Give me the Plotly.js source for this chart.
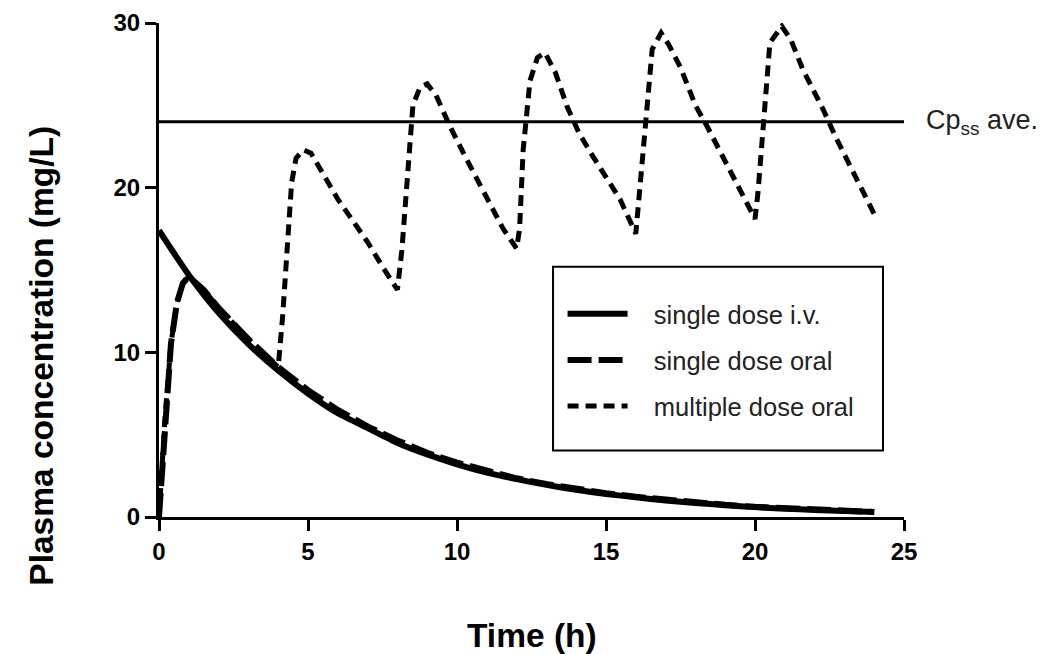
<!DOCTYPE html>
<html>
<head>
<meta charset="utf-8">
<script src="https://cdn.plot.ly/plotly-3.0.1.min.js"></script>
<style>html,body{margin:0;padding:0;background:#fff;}#chart{width:1060px;height:654px;}</style>
</head>
<body>
<div id="chart"></div>
<script>
// Time (h) and plasma concentration (mg/L)
var ivTime = [0,1,2,3,4,5,6,7,8,9,10,11,12,13,14,15,16,17,18,19,20,21,22,23,24];
var ivConc = [17.4,14.7,12.4,10.5,8.9,7.5,6.3,5.4,4.5,3.8,3.2,2.7,2.3,1.95,1.65,1.4,1.2,1.0,0.85,0.72,0.6,0.5,0.43,0.36,0.3];

var oralTime = [0,0.1,0.2,0.4,0.6,0.8,1.0,1.5,2,3,4,5,6,7,8,9,10,11,12,13,14,15,16,17,18,19,20,21,22,23,24];
var oralConc = [0,3,6,10.5,13,14.2,14.6,13.8,12.7,10.8,9.1,7.7,6.5,5.5,4.65,3.9,3.3,2.8,2.35,2.0,1.7,1.45,1.23,1.04,0.88,0.74,0.62,0.52,0.44,0.37,0.31];

var multiTime = [0,0.1,0.2,0.4,0.6,0.8,1.0,1.5,2,3,4,
  4.15,4.3,4.45,4.6,4.85,5.1,5.5,6,6.5,7,7.5,8,
  8.15,8.36,8.52,8.76,9.0,9.3,9.77,10.3,10.77,11.2,11.55,12.0,
  12.1,12.22,12.45,12.7,12.95,13.3,13.7,14.1,14.56,15.0,15.47,16.0,
  16.1,16.35,16.55,16.85,17.1,17.5,18.0,18.4,18.8,19.27,19.6,20.0,
  20.1,20.33,20.5,20.9,21.2,21.6,22.0,22.3,22.7,23.1,23.5,24.0];
var multiConc = [0,3,6,10.5,13,14.2,14.6,13.8,12.7,10.8,9.1,
  12.2,16.5,20.3,21.8,22.3,22.1,20.9,19.3,18.0,16.7,15.2,13.8,
  16.2,21.7,25.0,26.1,26.3,25.6,23.7,21.8,20.1,18.7,17.5,16.3,
  17.5,22.3,26.5,27.9,28.2,27.0,24.9,23.3,21.9,20.6,19.3,17.2,
  19.3,24.7,28.4,29.4,28.7,27.3,25.0,23.7,22.3,20.7,19.5,18.1,
  19.7,25.3,28.8,29.8,29.0,27.2,25.8,24.7,23.1,21.7,20.2,18.4];

var cpssTime = [0,25];
var cpssConc = [24,24];

var seriesNames = ['single dose i.v.','single dose oral','multiple dose oral'];
var xTicks = [0,5,10,15,20,25];
var yTicks = [0,10,20,30];

var FONT = 'Liberation Sans, Arial, Helvetica, sans-serif';
var PAD = '\u00a0\u00a0\u00a0';

var traces = [
  {x: cpssTime, y: cpssConc, mode:'lines', line:{color:'#000', width:3}, showlegend:false, hoverinfo:'skip', legendgroup:'z'},
  {x: ivTime, y: ivConc, name: PAD + seriesNames[0], mode:'lines', line:{color:'#000', width:6, shape:'spline', smoothing:0.6}, legendgroup:'a'},
  {x: oralTime, y: oralConc, name: PAD + seriesNames[1], mode:'lines', line:{color:'#000', width:6, dash:'24px,7px'}, legendgroup:'b'},
  {x: multiTime, y: multiConc, name: PAD + seriesNames[2], mode:'lines', line:{color:'#000', width:5, dash:'11px,7px'}, legendgroup:'c'}
];

var layout = {
  width:1060, height:654,
  margin:{l:159, r:156, t:23, b:137, pad:0},
  paper_bgcolor:'#fff', plot_bgcolor:'#fff',
  font:{family:FONT, color:'#000'},
  showlegend:true,
  legend:{x:0.5417, y:0.458, xanchor:'left', yanchor:'top', bgcolor:'rgba(0,0,0,0)', borderwidth:0,
          font:{size:25.5, family:FONT, color:'#222'}, tracegroupgap:10, itemwidth:60, traceorder:'grouped'},
  xaxis:{range:[0,25], tickvals:xTicks, ticktext:xTicks.map(String), showline:true, linewidth:3, linecolor:'#000',
         ticks:'outside', ticklen:11, tickwidth:3, tickcolor:'#000', showgrid:false, zeroline:false,
         tickfont:{size:24, family:FONT, weight:'bold'}, fixedrange:true},
  yaxis:{range:[0,30], tickvals:yTicks, ticktext:yTicks.map(String), showline:true, linewidth:3, linecolor:'#000',
         ticks:'outside', ticklen:11, tickwidth:3, tickcolor:'#000', showgrid:false, zeroline:false,
         tickfont:{size:24, family:FONT, weight:'bold'}, fixedrange:true},
  shapes:[
    {type:'rect', xref:'paper', yref:'paper', x0:0.5289, x1:0.9718, y0:0.1345, y1:0.5066, line:{color:'#000', width:2}}
  ],
  annotations:[
    {text:'Cp<sub>ss</sub> ave.', xref:'paper', yref:'y', x:1.027, y:24, xanchor:'left', yanchor:'middle', showarrow:false,
     font:{size:27, family:FONT, color:'#222'}},
    {text:'<b>Plasma concentration (mg/L)</b>', xref:'paper', yref:'paper', x:-0.157, y:0.3266, textangle:-90,
     xanchor:'center', yanchor:'middle', showarrow:false, font:{size:33.5, family:FONT, color:'#000'}},
    {text:'<b>Time (h)</b>', xref:'paper', yref:'paper', x:0.5, y:-0.2396, xanchor:'center', yanchor:'middle',
     showarrow:false, font:{size:33.5, family:FONT, color:'#000'}}
  ]
};

Plotly.newPlot('chart', traces, layout, {displayModeBar:false, staticPlot:true});
</script>
</body>
</html>
